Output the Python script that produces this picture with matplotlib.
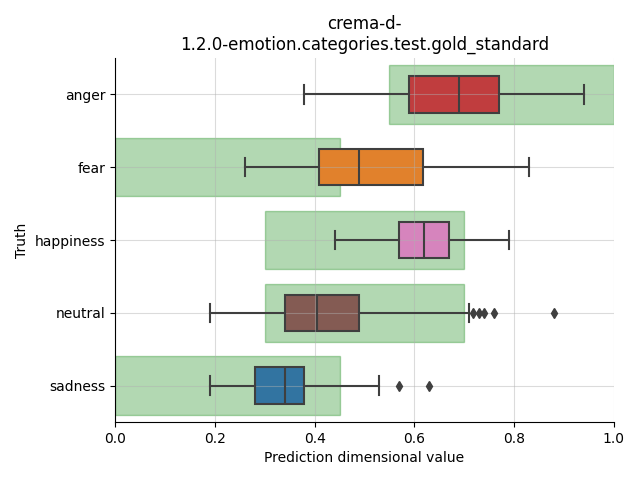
import matplotlib
matplotlib.use("Agg")
import matplotlib.pyplot as plt
import seaborn as sns
from matplotlib.patches import Rectangle

categories = ["anger", "fear", "happiness", "neutral", "sadness"]
whislo = [0.379, 0.26, 0.44, 0.19, 0.19]
q1 = [0.589, 0.408, 0.569, 0.341, 0.28]
med = [0.690, 0.489, 0.619, 0.404, 0.341]
q3 = [0.770, 0.617, 0.669, 0.490, 0.379]
whishi = [0.940, 0.830, 0.789, 0.709, 0.529]
fliers = [[], [], [], [0.718, 0.729, 0.740, 0.760, 0.880], [0.570, 0.630]]
range_lo = [0.55, 0.0, 0.30, 0.30, 0.0]
range_hi = [1.0, 0.45, 0.70, 0.70, 0.45]
base_colors = ["#d62728", "#ff7f0e", "#e377c2", "#8c564b", "#1f77b4"]

fig, ax = plt.subplots(figsize=(6.4, 4.8), dpi=100)

for i, (lo, hi) in enumerate(zip(range_lo, range_hi)):
    ax.add_patch(Rectangle((lo, i - 0.4), hi - lo, 0.8, facecolor="green",
                           edgecolor="green", alpha=0.3, linewidth=1, zorder=0.5))

stats = []
for i, c in enumerate(categories):
    stats.append(dict(label=c, whislo=whislo[i], q1=q1[i], med=med[i],
                      q3=q3[i], whishi=whishi[i], fliers=fliers[i]))

lc = "#3f3f3f"
bp = ax.bxp(stats, positions=range(len(categories)), vert=False, widths=0.5,
            patch_artist=True, showfliers=True,
            boxprops=dict(edgecolor=lc, linewidth=1.5),
            medianprops=dict(color=lc, linewidth=1.5),
            whiskerprops=dict(color=lc, linewidth=1.5),
            capprops=dict(color=lc, linewidth=1.5),
            flierprops=dict(marker="d", markerfacecolor=lc, markeredgecolor=lc,
                            markersize=5, linestyle="none"))
for patch, col in zip(bp["boxes"], base_colors):
    patch.set_facecolor(sns.desaturate(col, 0.75))
    patch.set_zorder(1)

ax.set_xlim(0, 1)
ax.set_ylim(4.5, -0.5)
ax.set_yticks(range(len(categories)))
ax.set_yticklabels(categories)
ax.grid(True, color="#b0b0b0", alpha=0.45, linewidth=0.8)
ax.spines["top"].set_visible(False)
ax.spines["right"].set_visible(False)
ax.set_xlabel("Prediction dimensional value")
ax.set_ylabel("Truth")
ax.set_title("crema-d-\n1.2.0-emotion.categories.test.gold_standard")

fig.subplots_adjust(left=0.18, right=0.959, bottom=0.121, top=0.879)
fig.savefig("out.png", dpi=100)
